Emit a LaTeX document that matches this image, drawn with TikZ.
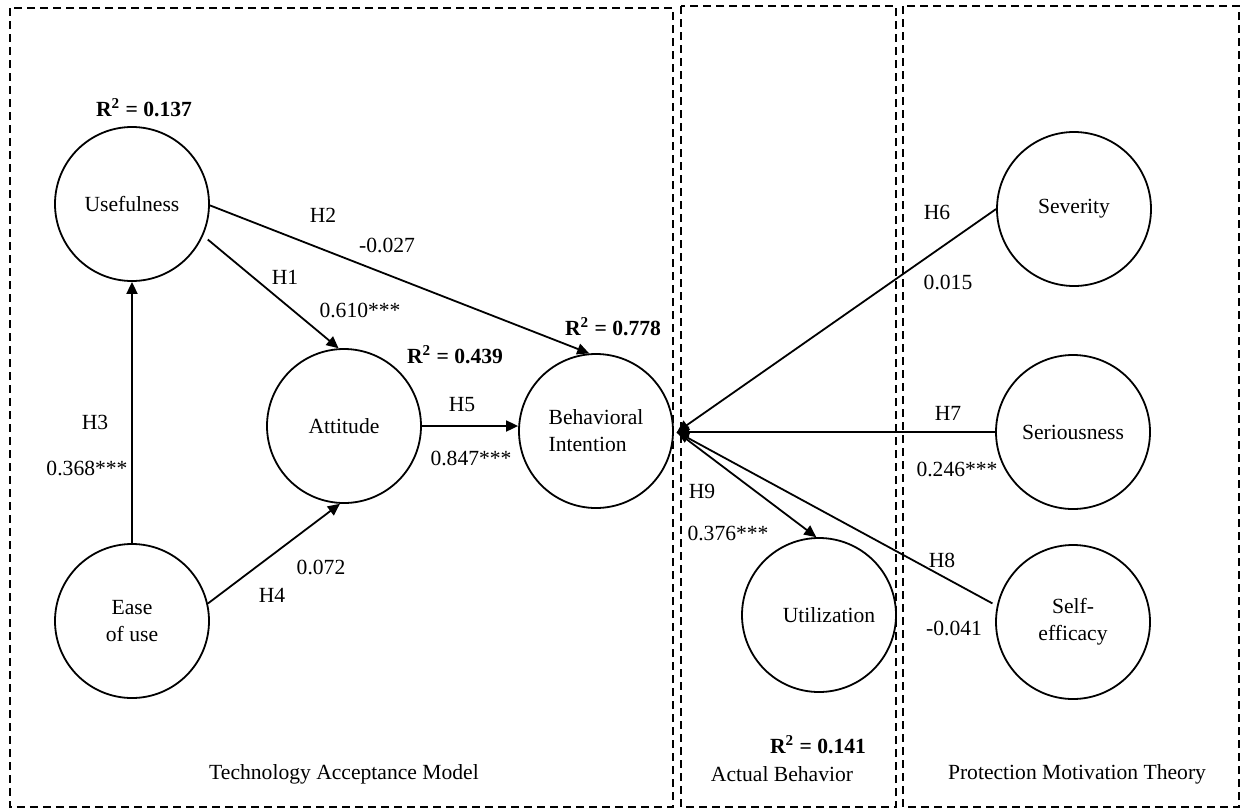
\documentclass[tikz,border=0pt]{standalone}
\usepackage{fontspec}
\setmainfont{Liberation Serif}
\usetikzlibrary{arrows.meta}
\begin{document}
\begin{tikzpicture}[x=0.5pt,y=-0.5pt,
  every node/.style={font=\fontsize{10.8}{13.5}\selectfont},
  construct/.style={circle,draw,line width=0.9pt,minimum size=77pt,inner sep=0pt,align=center},
  arr/.style={line width=0.9pt,-{Triangle[length=6pt,width=5.5pt]}},
  frame/.style={line width=1pt,dash pattern=on 4pt off 2.5pt},
  lab/.style={inner sep=0pt},
  rsq/.style={inner sep=0pt,font=\fontsize{10.8}{13.5}\selectfont\bfseries}]
\useasboundingbox (0,0) rectangle (1241,809);

% frames
\draw[frame] (10,8) rectangle (673,807);
\draw[frame] (681,6) rectangle (896,807);
\draw[frame] (903,6) rectangle (1239,807);

\node[lab] (tam) at (344,774) {Technology Acceptance Model};
\node[lab] (ab) at (782,774) {Actual Behavior};
\node[lab] (pmt) at (1077,774) {Protection Motivation Theory};

% constructs
\node[construct] (U) at (132,204) {Usefulness};
\node[construct] (E) at (132,621) {Ease\\of use};
\node[construct] (A) at (344,426) {Attitude};
\node[construct,align=left] (BI) at (596,431) {Behavioral\\Intention};
\node[construct] (Ut) at (819,615) {\hspace*{10pt}Utilization};
\node[construct] (Sev) at (1074,209) {Severity};
\node[construct] (Ser) at (1073,432) {Seriousness};
\node[construct] (SE) at (1073,622) {Self-\\efficacy};

\coordinate (bip) at (677,432);

% R squared
\node[rsq] (r1) at (144,108) {R\textsuperscript{2} = 0.137};
\node[rsq] (r2) at (455,355) {R\textsuperscript{2} = 0.439};
\node[rsq] (r3) at (613,327) {R\textsuperscript{2} = 0.778};
\node[rsq] (r4) at (818,745) {R\textsuperscript{2} = 0.141};

% paths
\draw[arr,shorten <=3pt] (U.-24) -- (A.94);
\draw[arr] (U.-1) -- (BI.95);
\draw[arr] (E.north) -- (U.south);
\draw[arr] (E.13) -- (A.-93);
\draw[arr] (A.east) -- (A.east -| BI.west);
\draw[arr] (Sev.west) -- (bip);
\draw[arr] (Ser.west) -- (bip);
\draw[arr,shorten <=2.5pt] (SE.168) -- (bip);
\draw[arr] (bip) -- (Ut.92);

% path labels
\node[lab] (h2) at (323,215) {H2};
\node[lab] (v2) at (387,245) {-0.027};
\node[lab] (h1) at (285,277) {H1};
\node[lab] (v1) at (360,310) {0.610***};
\node[lab] (h3) at (95,422) {H3};
\node[lab] (v3) at (87,468) {0.368***};
\node[lab] (h5) at (462,405) {H5};
\node[lab] (v5) at (471,458) {0.847***};
\node[lab] (v4) at (321,567) {0.072};
\node[lab] (h4) at (272,595) {H4};
\node[lab] (h6) at (937,212) {H6};
\node[lab] (v6) at (948,282) {0.015};
\node[lab] (h7) at (948,413) {H7};
\node[lab] (v7) at (957,469) {0.246***};
\node[lab] (h8) at (942,560) {H8};
\node[lab] (v8) at (954,628) {-0.041};
\node[lab] (h9) at (702,491) {H9};
\node[lab] (v9) at (728,533) {0.376***};
\end{tikzpicture}
\end{document}
